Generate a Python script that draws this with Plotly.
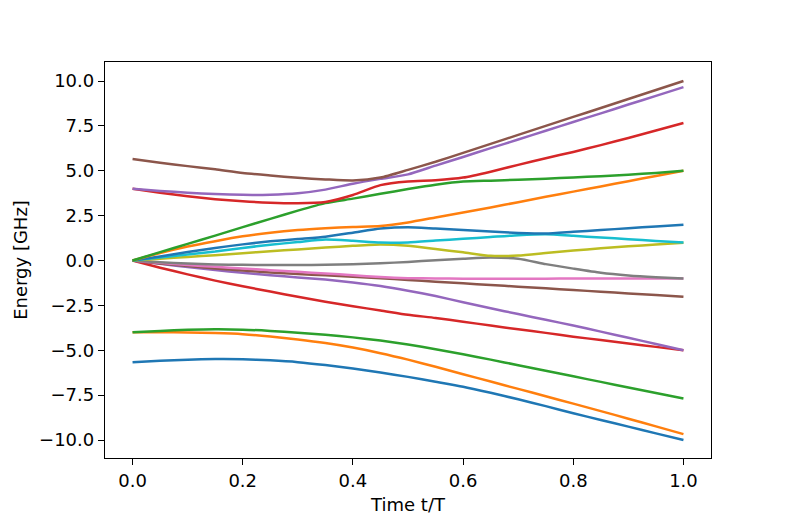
import plotly.graph_objects as go

# time axis (t/T)
t = [0.0, 0.05, 0.1, 0.15, 0.2, 0.25, 0.3, 0.35, 0.4, 0.45, 0.5,
     0.55, 0.6, 0.65, 0.7, 0.75, 0.8, 0.85, 0.9, 0.95, 1.0]

# energy levels, sorted low -> high
e00 = [-5.66, -5.58, -5.52, -5.49, -5.5, -5.56, -5.66, -5.82, -6.01, -6.24, -6.48,
       -6.75, -7.03, -7.37, -7.73, -8.11, -8.51, -8.88, -9.25, -9.63, -10.0]
e01 = [-4.0, -3.99, -4.01, -4.04, -4.1, -4.23, -4.4, -4.6, -4.85, -5.16, -5.52,
       -5.92, -6.33, -6.74, -7.15, -7.56, -7.97, -8.39, -8.81, -9.24, -9.67]
e02 = [-4.0, -3.92, -3.86, -3.83, -3.85, -3.92, -4.02, -4.14, -4.28, -4.46, -4.68,
       -4.94, -5.22, -5.52, -5.83, -6.14, -6.45, -6.76, -7.07, -7.38, -7.68]
e03 = [0.0, -0.4, -0.77, -1.12, -1.43, -1.73, -2.02, -2.3, -2.55, -2.78, -3.02,
       -3.2, -3.41, -3.62, -3.83, -4.03, -4.24, -4.43, -4.62, -4.81, -5.0]
e04 = [0.0, -0.18, -0.36, -0.53, -0.68, -0.82, -0.94, -1.06, -1.22, -1.42, -1.68,
       -1.98, -2.32, -2.66, -2.98, -3.3, -3.62, -3.96, -4.3, -4.65, -5.0]
e05 = [0.0, -0.16, -0.3, -0.44, -0.56, -0.66, -0.75, -0.82, -0.9, -0.98, -1.08,
       -1.18, -1.27, -1.36, -1.46, -1.55, -1.64, -1.74, -1.83, -1.92, -2.02]
e06 = [0.0, -0.13, -0.25, -0.35, -0.44, -0.54, -0.63, -0.72, -0.82, -0.92, -0.98,
       -1.0, -1.01, -1.01, -1.01, -1.01, -1.0, -1.0, -1.0, -1.0, -1.0]
e07 = [0.0, -0.1, -0.17, -0.22, -0.24, -0.25, -0.25, -0.24, -0.21, -0.15, -0.08,
       0.02, 0.1, 0.17, 0.1, -0.2, -0.45, -0.68, -0.83, -0.93, -1.0]
e08 = [0.0, 0.1, 0.2, 0.3, 0.41, 0.52, 0.62, 0.72, 0.82, 0.89, 0.82,
       0.64, 0.46, 0.26, 0.28, 0.42, 0.56, 0.68, 0.79, 0.89, 0.99]
e09 = [0.0, 0.17, 0.34, 0.5, 0.7, 0.88, 1.03, 1.17, 1.1, 1.0, 1.01,
       1.11, 1.21, 1.31, 1.41, 1.46, 1.38, 1.28, 1.19, 1.09, 1.0]
e10 = [0.0, 0.23, 0.47, 0.7, 0.9, 1.07, 1.2, 1.33, 1.55, 1.78, 1.86,
       1.78, 1.7, 1.62, 1.54, 1.5, 1.6, 1.7, 1.8, 1.9, 2.0]
e11 = [0.0, 0.42, 0.78, 1.08, 1.35, 1.55, 1.7, 1.8, 1.87, 1.92, 2.12,
       2.4, 2.68, 2.96, 3.25, 3.55, 3.84, 4.13, 4.42, 4.71, 5.0]
e12 = [0.0, 0.47, 0.93, 1.39, 1.86, 2.32, 2.78, 3.2, 3.45, 3.72, 3.98,
       4.22, 4.4, 4.45, 4.5, 4.56, 4.63, 4.7, 4.78, 4.88, 5.0]
e13 = [4.0, 3.78, 3.58, 3.42, 3.3, 3.22, 3.19, 3.26, 3.65, 4.2, 4.4,
       4.47, 4.62, 4.95, 5.33, 5.7, 6.05, 6.43, 6.83, 7.24, 7.66]
e14 = [4.0, 3.88, 3.78, 3.7, 3.66, 3.67, 3.75, 3.95, 4.28, 4.55, 4.8,
       5.29, 5.77, 6.26, 6.74, 7.23, 7.72, 8.2, 8.69, 9.17, 9.66]
e15 = [5.66, 5.45, 5.26, 5.08, 4.88, 4.74, 4.61, 4.52, 4.46, 4.62, 5.05,
       5.5, 6.0, 6.5, 7.0, 7.5, 8.0, 8.5, 9.0, 9.5, 10.0]

levels = [e00, e01, e02, e03, e04, e05, e06, e07,
          e08, e09, e10, e11, e12, e13, e14, e15]

# matplotlib default colour cycle
colors = ['#1f77b4', '#ff7f0e', '#2ca02c', '#d62728', '#9467bd',
          '#8c564b', '#e377c2', '#7f7f7f', '#bcbd22', '#17becf']

fig = go.Figure()
for i, e in enumerate(levels):
    fig.add_trace(go.Scatter(x=t, y=e, mode='lines',
                             line=dict(color=colors[i % 10], width=2.5, shape='spline', smoothing=0.6),
                             showlegend=False))

font = dict(family='DejaVu Sans', size=18, color='black')
axis_style = dict(showline=True, mirror=True, linecolor='black', linewidth=1.3,
                  ticks='outside', ticklen=6, tickwidth=1.3, tickcolor='black',
                  showgrid=False, zeroline=False, tickfont=font)

fig.update_xaxes(range=[-0.05, 1.05], tickvals=[0, 0.2, 0.4, 0.6, 0.8, 1.0],
                 tickformat='.1f',
                 title=dict(text='Time t/T', font=font, standoff=8),
                 **axis_style)
fig.update_yaxes(range=[-11.0, 11.06], tickvals=[-10, -7.5, -5, -2.5, 0, 2.5, 5, 7.5, 10],
                 tickformat='.1f',
                 title=dict(text='Energy [GHz]', font=font, standoff=6),
                 **axis_style)

# the page body adds an 8px offset, so the margins are shifted to match
fig.update_layout(width=789, height=529,
                  margin=dict(l=94, r=86, t=54, b=79),
                  plot_bgcolor='white', paper_bgcolor='white',
                  font=font)

fig.write_html("out.html")
